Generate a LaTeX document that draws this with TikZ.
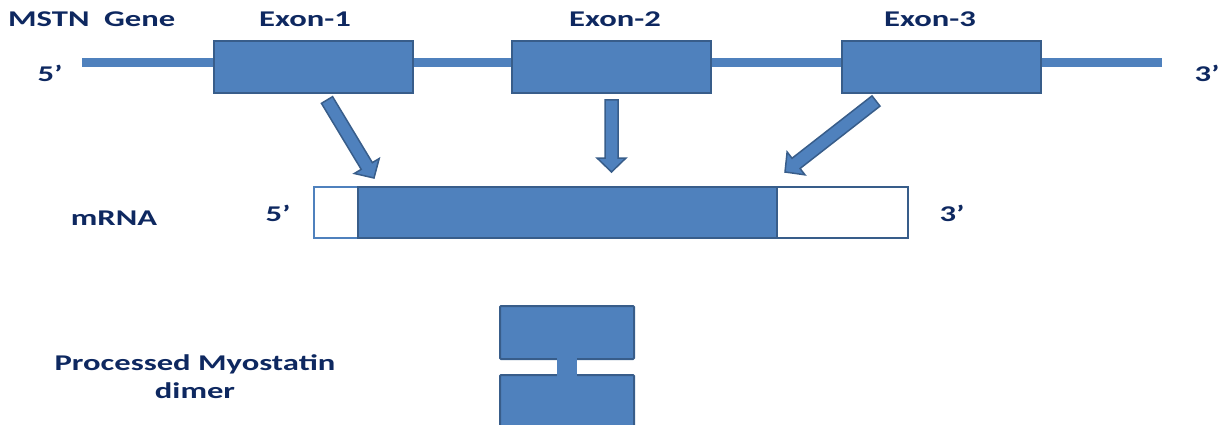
\documentclass[tikz,border=0pt]{standalone}
\usepackage{fontspec}
\setmainfont{Carlito}[FakeStretch=1.45]
\usetikzlibrary{calc}

\definecolor{exonblue}{RGB}{79,129,189}
\definecolor{edgeblue}{RGB}{56,93,138}
\definecolor{labelnavy}{RGB}{14,40,96}

\tikzset{
  exon/.style={draw=edgeblue, fill=exonblue, line width=2pt, rectangle,
    minimum width=199pt, minimum height=52pt, inner sep=0pt},
  lbl/.style={text=labelnavy, font=\bfseries\fontsize{22.5}{27}\selectfont, inner sep=0pt},
  plain/.style={draw=edgeblue, line width=2pt}
}

% block arrow from #1 to #2
\newcommand{\blockarrow}[2]{%
  \fill[exonblue, draw=edgeblue, line width=1.5pt, line join=miter]
    ($(#1)!6.5pt!90:(#2)$) --
    ($($(#2)!14pt!(#1)$)!6.5pt!90:(#2)$) --
    ($($(#2)!14pt!(#1)$)!14.5pt!90:(#2)$) --
    (#2) --
    ($($(#2)!14pt!(#1)$)!14.5pt!-90:(#2)$) --
    ($($(#2)!14pt!(#1)$)!6.5pt!-90:(#2)$) --
    ($(#1)!6.5pt!-90:(#2)$) -- cycle;}

\begin{document}
\begin{tikzpicture}[x=1pt, y=-1pt]
  \useasboundingbox (0,0) rectangle (1225,425);
  \clip (0,0) rectangle (1225,425);

  % Gene strand
  \draw[exonblue, line width=9pt] (82,63) -- (1162,63);
  \node[exon] (ex1) at (313.5,67) {};
  \node[exon] (ex2) at (611.5,67) {};
  \node[exon] (ex3) at (941,67) {};

  % Labels of the gene
  \node[lbl, anchor=west] (gene) at (8,19) {MSTN\ \ Gene};
  \node[lbl] (ex1lbl) at (305,19) {Exon-1};
  \node[lbl] (ex2lbl) at (615,19) {Exon-2};
  \node[lbl] (ex3lbl) at (930,19) {Exon-3};
  \node[lbl] (gfive) at (50,73) {5’};
  \node[lbl] (gthree) at (1207,73) {3’};

  % mRNA
  \draw[draw=exonblue, line width=2pt, fill=white] (314,187) rectangle (358,238);
  \draw[plain, fill=white] (777,187) rectangle (908,238);
  \draw[plain, fill=exonblue] (358,187) rectangle (777,238);
  \node[lbl] (mlbl) at (114,218) {mRNA};
  \node[lbl] (mfive) at (278,213) {5’};
  \node[lbl] (mthree) at (952,213) {3’};

  % Arrows from exons
  \coordinate (a1s) at (327,100);
  \coordinate (a1e) at (374,178);
  \coordinate (a2s) at (611.5,100);
  \coordinate (a2e) at (611.5,172);
  \coordinate (a3s) at (876,101);
  \coordinate (a3e) at (785,172);
  \blockarrow{a1s}{a1e}
  \blockarrow{a2s}{a2e}
  \blockarrow{a3s}{a3e}

  % Processed dimer
  \draw[plain, fill=exonblue, rounded corners=1pt] (500,306) rectangle (634,359);
  \draw[plain, fill=exonblue, rounded corners=1pt] (500,375) rectangle (634,440);
  \fill[exonblue] (557,357) rectangle (577,377);
  \node[lbl, align=center] (dimer) at (195,377) {Processed Myostatin\\[1pt]dimer};
\end{tikzpicture}
\end{document}
